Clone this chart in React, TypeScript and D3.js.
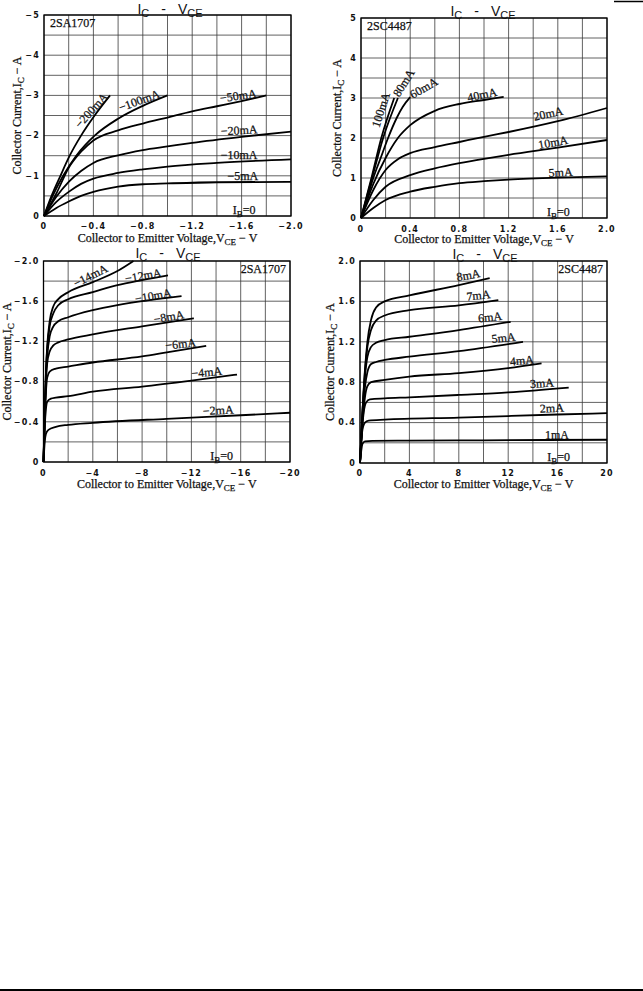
import * as d3 from "d3";

type Pt = [number, number];
type Curve = { ib: string; pts: Pt[] };
type Tag = { text: string; v: number; i: number; rot: number };

// 2SA1707, VCE 0 … −2 V, IC 0 … −5 A
const sa1707Low: Curve[] = [
  { ib: "−200mA", pts: [[0, 0], [-0.061, -0.5], [-0.133, -1], [-0.208, -1.5], [-0.3, -2], [-0.41, -2.5], [-0.535, -3]] },
  { ib: "−100mA", pts: [[0, 0], [-0.07, -0.5], [-0.155, -1], [-0.261, -1.5], [-0.41, -2], [-0.6, -2.42], [-0.8, -2.74], [-1.0, -3.0]] },
  { ib: "−50mA", pts: [[0, 0], [-0.1, -0.56], [-0.2, -1.2], [-0.3, -1.6], [-0.4, -1.88], [-0.6, -2.13], [-0.8, -2.3], [-1.0, -2.45], [-1.2, -2.6], [-1.4, -2.73], [-1.6, -2.86], [-1.8, -3.0]] },
  { ib: "−20mA", pts: [[0, 0], [-0.1, -0.48], [-0.2, -0.85], [-0.3, -1.12], [-0.4, -1.32], [-0.6, -1.51], [-0.8, -1.64], [-1.0, -1.73], [-1.2, -1.82], [-1.6, -1.97], [-2.0, -2.1]] },
  { ib: "−10mA", pts: [[0, 0], [-0.1, -0.35], [-0.2, -0.6], [-0.3, -0.8], [-0.4, -0.93], [-0.6, -1.07], [-0.8, -1.16], [-1.0, -1.23], [-1.4, -1.32], [-2.0, -1.41]] },
  { ib: "−5mA", pts: [[0, 0], [-0.1, -0.2], [-0.2, -0.36], [-0.3, -0.5], [-0.4, -0.6], [-0.6, -0.73], [-0.8, -0.79], [-1.0, -0.81], [-1.4, -0.84], [-2.0, -0.85]] },
];

// 2SC4487, VCE 0 … 2 V, IC 0 … 5 A
const sc4487Low: Curve[] = [
  { ib: "100mA", pts: [[0, 0], [0.085, 1], [0.165, 2], [0.27, 3.0]] },
  { ib: "80mA", pts: [[0, 0], [0.09, 1], [0.18, 2], [0.3, 3.0]] },
  { ib: "60mA", pts: [[0, 0], [0.05, 0.5], [0.1, 1], [0.16, 1.5], [0.22, 2], [0.29, 2.5], [0.34, 2.78], [0.4, 3.02]] },
  { ib: "40mA", pts: [[0, 0], [0.1, 0.85], [0.2, 1.5], [0.3, 2.0], [0.4, 2.32], [0.6, 2.68], [0.8, 2.85], [1.0, 2.95], [1.16, 3.03]] },
  { ib: "20mA", pts: [[0, 0], [0.1, 0.7], [0.2, 1.2], [0.3, 1.47], [0.4, 1.62], [0.6, 1.77], [0.8, 1.9], [1.0, 2.03], [1.2, 2.15], [1.6, 2.42], [2.0, 2.75]] },
  { ib: "10mA", pts: [[0, 0], [0.1, 0.45], [0.2, 0.78], [0.4, 1.07], [0.6, 1.24], [0.8, 1.37], [1.0, 1.48], [1.2, 1.58], [1.6, 1.76], [2.0, 1.95]] },
  { ib: "5mA", pts: [[0, 0], [0.1, 0.25], [0.2, 0.45], [0.4, 0.66], [0.6, 0.78], [0.8, 0.87], [1.0, 0.92], [1.2, 0.96], [1.6, 1.01], [2.0, 1.04]] },
];

// 2SA1707, VCE 0 … −20 V, IC 0 … −2 A
const sa1707High: Curve[] = [
  { ib: "−14mA", pts: [[0, 0], [-0.1, -0.5], [-0.2, -0.9], [-0.3, -1.15], [-0.5, -1.4], [-0.8, -1.55], [-1.2, -1.62], [-2, -1.69], [-4, -1.79], [-6, -1.9], [-7.3, -2.0]] },
  { ib: "−12mA", pts: [[0, 0], [-0.1, -0.5], [-0.2, -0.9], [-0.3, -1.12], [-0.5, -1.35], [-0.8, -1.48], [-1.2, -1.56], [-2, -1.62], [-4, -1.69], [-6, -1.76], [-8, -1.81], [-10.1, -1.857]] },
  { ib: "−10mA", pts: [[0, 0], [-0.1, -0.48], [-0.2, -0.85], [-0.3, -1.05], [-0.5, -1.25], [-0.8, -1.35], [-1.2, -1.4], [-2, -1.44], [-4, -1.51], [-6, -1.56], [-8, -1.6], [-11.2, -1.65]] },
  { ib: "−8mA", pts: [[0, 0], [-0.1, -0.45], [-0.2, -0.8], [-0.3, -0.98], [-0.5, -1.1], [-0.8, -1.16], [-1.2, -1.19], [-2, -1.22], [-4, -1.27], [-8, -1.35], [-12.2, -1.43]] },
  { ib: "−6mA", pts: [[0, 0], [-0.1, -0.4], [-0.2, -0.7], [-0.3, -0.84], [-0.5, -0.9], [-1, -0.93], [-2, -0.95], [-4, -0.99], [-8, -1.05], [-10, -1.09], [-13.2, -1.155]] },
  { ib: "−4mA", pts: [[0, 0], [-0.1, -0.35], [-0.2, -0.53], [-0.3, -0.6], [-0.6, -0.63], [-1, -0.64], [-2, -0.655], [-4, -0.7], [-8, -0.75], [-12, -0.81], [-15.7, -0.87]] },
  { ib: "−2mA", pts: [[0, 0], [-0.1, -0.2], [-0.2, -0.28], [-0.4, -0.32], [-1, -0.35], [-2, -0.37], [-4, -0.39], [-10, -0.43], [-16, -0.465], [-20, -0.49]] },
];

// 2SC4487, VCE 0 … 20 V, IC 0 … 2 A
const sc4487High: Curve[] = [
  { ib: "8mA", pts: [[0, 0], [0.2, 0.5], [0.4, 0.92], [0.6, 1.2], [0.9, 1.42], [1.3, 1.54], [2, 1.6], [4, 1.66], [8, 1.76], [10.5, 1.83]] },
  { ib: "7mA", pts: [[0, 0], [0.2, 0.5], [0.4, 0.9], [0.6, 1.15], [0.9, 1.32], [1.3, 1.41], [2, 1.46], [4, 1.513], [8, 1.56], [11.2, 1.612]] },
  { ib: "6mA", pts: [[0, 0], [0.2, 0.5], [0.4, 0.85], [0.6, 1.05], [0.9, 1.15], [1.3, 1.19], [2, 1.217], [4, 1.25], [8, 1.316], [12.2, 1.398]] },
  { ib: "5mA", pts: [[0, 0], [0.2, 0.45], [0.4, 0.75], [0.6, 0.9], [0.9, 0.98], [1.3, 1.0], [2, 1.02], [4, 1.053], [8, 1.108], [13.2, 1.2]] },
  { ib: "4mA", pts: [[0, 0], [0.2, 0.4], [0.4, 0.65], [0.6, 0.76], [0.9, 0.8], [2, 0.822], [4, 0.855], [8, 0.89], [12, 0.94], [14.7, 0.987]] },
  { ib: "3mA", pts: [[0, 0], [0.15, 0.3], [0.3, 0.5], [0.5, 0.6], [0.8, 0.63], [2, 0.64], [4, 0.65], [8, 0.674], [12, 0.7], [16.9, 0.747]] },
  { ib: "2mA", pts: [[0, 0], [0.1, 0.2], [0.2, 0.33], [0.4, 0.4], [0.7, 0.42], [2, 0.43], [8, 0.45], [12, 0.465], [16, 0.48], [20, 0.493]] },
  { ib: "1mA", pts: [[0, 0], [0.1, 0.12], [0.2, 0.19], [0.4, 0.215], [1, 0.22], [4, 0.222], [10, 0.225], [20, 0.23]] },
];

// curve tags, placed in data units
const sa1707LowTags: Tag[] = [
  { text: "−200mA", v: -0.385, i: -2.62, rot: -48 },
  { text: "−100mA", v: -0.772, i: -2.86, rot: -20 },
  { text: "−50mA", v: -1.573, i: -2.98, rot: -8 },
  { text: "−20mA", v: -1.58, i: -2.12, rot: -3 },
  { text: "−10mA", v: -1.58, i: -1.5, rot: 0 },
  { text: "−5mA", v: -1.61, i: -0.98, rot: 0 },
];
const sc4487LowTags: Tag[] = [
  { text: "100mA", v: 0.165, i: 2.7, rot: -72 },
  { text: "80mA", v: 0.35, i: 3.37, rot: -58 },
  { text: "60mA", v: 0.512, i: 3.24, rot: -30 },
  { text: "40mA", v: 0.986, i: 3.07, rot: -12 },
  { text: "20mA", v: 1.523, i: 2.6, rot: -12 },
  { text: "10mA", v: 1.563, i: 1.88, rot: -10 },
  { text: "5mA", v: 1.623, i: 1.13, rot: -3 },
];
const sa1707HighTags: Tag[] = [
  { text: "−14mA", v: -3.83, i: -1.85, rot: -27 },
  { text: "−12mA", v: -8.1, i: -1.85, rot: -10 },
  { text: "−10mA", v: -8.91, i: -1.65, rot: -10 },
  { text: "−8mA", v: -10.18, i: -1.44, rot: -10 },
  { text: "−6mA", v: -11.13, i: -1.17, rot: -6 },
  { text: "−4mA", v: -13.24, i: -0.89, rot: -5 },
  { text: "−2mA", v: -14.18, i: -0.51, rot: -3 },
];
const sc4487HighTags: Tag[] = [
  { text: "8mA", v: 8.78, i: 1.855, rot: -10 },
  { text: "7mA", v: 9.59, i: 1.655, rot: -6 },
  { text: "6mA", v: 10.54, i: 1.44, rot: -6 },
  { text: "5mA", v: 11.62, i: 1.235, rot: -6 },
  { text: "4mA", v: 13.11, i: 1.01, rot: -5 },
  { text: "3mA", v: 14.73, i: 0.786, rot: -4 },
  { text: "2mA", v: 15.54, i: 0.54, rot: -3 },
  { text: "1mA", v: 15.95, i: 0.272, rot: 0 },
];

const SERIF = "'Liberation Serif', 'DejaVu Serif', serif";
const SANS = "'Liberation Sans', Arial, sans-serif";
const TICK = "'DejaVu Sans', sans-serif";

const ink = { fill: "#111", stroke: "#111", strokeWidth: 0.25 };

const fmt = (d: number) => (v: number) =>
  v === 0 ? "0" : (v < 0 ? "−" : "") + Math.abs(v).toFixed(d);

type PanelProps = {
  box: [number, number, number, number]; // left, top, right, bottom
  xDomain: [number, number];
  yDomain: [number, number];
  xLabels: number[];
  yLabels: number[];
  xFmt: (v: number) => string;
  yFmt: (v: number) => string;
  curves: Curve[];
  tags: Tag[];
  model: string;
  modelAlign: "start" | "end";
  ib0: [number, number];
  title: [number, number];
  yTitleX: number;
  xTickDy: number;
  xTitleDy: number;
};

function Panel(p: PanelProps) {
  const [l, t, r, b] = p.box;
  const x = d3.scaleLinear().domain(p.xDomain).range([l, r]);
  const y = d3.scaleLinear().domain(p.yDomain).range([b, t]);
  const line = d3
    .line<Pt>()
    .x((d) => x(d[0]))
    .y((d) => y(d[1]))
    .curve(d3.curveMonotoneX);
  const gx = d3.range(11).map((k) => p.xDomain[0] + ((p.xDomain[1] - p.xDomain[0]) * k) / 10);
  const gy = d3.range(11).map((k) => p.yDomain[0] + ((p.yDomain[1] - p.yDomain[0]) * k) / 10);
  const cx = (l + r) / 2;
  const cy = (t + b) / 2;

  return (
    <g>
      {gx.map((v, k) => (
        <line key={"gx" + k} x1={x(v)} x2={x(v)} y1={t} y2={b} stroke="#3a3a3a" strokeWidth={0.8} />
      ))}
      {gy.map((v, k) => (
        <line key={"gy" + k} x1={l} x2={r} y1={y(v)} y2={y(v)} stroke="#3a3a3a" strokeWidth={0.8} />
      ))}
      <rect x={l} y={t} width={r - l} height={b - t} fill="none" stroke="#000" strokeWidth={1.3} />

      {p.curves.map((c) => (
        <path key={c.ib} d={line(c.pts) ?? ""} fill="none" stroke="#000" strokeWidth={1.8} />
      ))}

      {p.tags.map((g) => (
        <text
          key={g.text}
          transform={`translate(${x(g.v)},${y(g.i)}) rotate(${g.rot})`}
          textAnchor="middle"
          dy="0.3em"
          fontFamily={SERIF}
          fontSize={12}
          {...ink}
        >
          {g.text}
        </text>
      ))}

      <text x={x(p.ib0[0])} y={y(p.ib0[1])} dy="0.35em" textAnchor="middle" fontFamily={SERIF} fontSize={12} {...ink}>
        I<tspan fontSize={9} dy={3}>B</tspan>
        <tspan dy={-3}>=0</tspan>
      </text>

      <text
        x={p.modelAlign === "start" ? l + 6 : r - 4}
        y={t + 12}
        textAnchor={p.modelAlign}
        fontFamily={SERIF}
        fontSize={12}
        {...ink}
      >
        {p.model}
      </text>

      {p.xLabels.map((v) => (
        <text key={"xl" + v} x={x(v)} y={b + p.xTickDy} textAnchor="middle" fontFamily={TICK} fontWeight="bold" fontSize={8} letterSpacing={1.2} fill="#111">
          {p.xFmt(v)}
        </text>
      ))}
      {p.yLabels.map((v) => (
        <text key={"yl" + v} x={l - 4} y={y(v)} dy="0.35em" textAnchor="end" fontFamily={TICK} fontWeight="bold" fontSize={8} letterSpacing={1.2} fill="#111">
          {p.yFmt(v)}
        </text>
      ))}

      <text x={cx} y={b + p.xTitleDy} textAnchor="middle" fontFamily={SERIF} fontSize={12} {...ink}>
        Collector to Emitter Voltage,V<tspan fontSize={9} dy={2.5}>CE</tspan>
        <tspan dy={-2.5}> − V</tspan>
      </text>
      <text
        transform={`translate(${p.yTitleX},${cy}) rotate(-90)`}
        textAnchor="middle"
        dy="0.35em"
        fontFamily={SERIF}
        fontSize={12}
        {...ink}
      >
        Collector Current,I<tspan fontSize={9} dy={3}>C</tspan>
        <tspan dy={-3}> − A</tspan>
      </text>

      <text x={p.title[0]} y={p.title[1]} dy="0.35em" textAnchor="middle" fontFamily={SANS} fontSize={14} fill="#111">
        I<tspan fontSize={11} dy={3}>C</tspan>
        <tspan dy={-3} dx={12}>-</tspan>
        <tspan dx={12}>V</tspan>
        <tspan fontSize={11} dy={3}>CE</tspan>
      </text>
    </g>
  );
}

export default function App() {
  return (
    <svg width={643} height={991} style={{ position: "absolute", left: 0, top: 0, background: "#fff" }}>
      <rect width={643} height={991} fill="#fff" />
      <Panel
        box={[44, 15, 291, 216]}
        xDomain={[0, -2]}
        yDomain={[0, -5]}
        xLabels={[0, -0.4, -0.8, -1.2, -1.6, -2.0]}
        yLabels={[0, -1, -2, -3, -4, -5]}
        xFmt={fmt(1)}
        yFmt={fmt(0)}
        curves={sa1707Low}
        tags={sa1707LowTags}
        model="2SA1707"
        modelAlign="start"
        ib0={[-1.62, -0.15]}
        title={[170, 9]}
        yTitleX={17}
        xTickDy={13}
        xTitleDy={26}
      />
      <Panel
        box={[361, 18, 607, 218]}
        xDomain={[0, 2]}
        yDomain={[0, 5]}
        xLabels={[0, 0.4, 0.8, 1.2, 1.6, 2.0]}
        yLabels={[0, 1, 2, 3, 4, 5]}
        xFmt={fmt(1)}
        yFmt={fmt(0)}
        curves={sc4487Low}
        tags={sc4487LowTags}
        model="2SC4487"
        modelAlign="start"
        ib0={[1.604, 0.16]}
        title={[483, 11]}
        yTitleX={337}
        xTickDy={13.5}
        xTitleDy={25}
      />
      <Panel
        box={[43.5, 261, 290, 462]}
        xDomain={[0, -20]}
        yDomain={[0, -2]}
        xLabels={[0, -4, -8, -12, -16, -20]}
        yLabels={[0, -0.4, -0.8, -1.2, -1.6, -2.0]}
        xFmt={fmt(0)}
        yFmt={fmt(1)}
        curves={sa1707High}
        tags={sa1707HighTags}
        model="2SA1707"
        modelAlign="end"
        ib0={[-14.46, -0.06]}
        title={[168, 253]}
        yTitleX={7}
        xTickDy={14}
        xTitleDy={26}
      />
      <Panel
        box={[360, 261, 607, 463]}
        xDomain={[0, 20]}
        yDomain={[0, 2]}
        xLabels={[0, 4, 8, 12, 16, 20]}
        yLabels={[0, 0.4, 0.8, 1.2, 1.6, 2.0]}
        xFmt={fmt(0)}
        yFmt={fmt(1)}
        curves={sc4487High}
        tags={sc4487HighTags}
        model="2SC4487"
        modelAlign="end"
        ib0={[16.08, 0.062]}
        title={[485, 254]}
        yTitleX={330}
        xTickDy={13}
        xTitleDy={25}
      />
      <line x1={614} x2={643} y1={1.5} y2={1.5} stroke="#000" strokeWidth={1.5} />
      <line x1={0} x2={643} y1={990} y2={990} stroke="#000" strokeWidth={2} />
    </svg>
  );
}
